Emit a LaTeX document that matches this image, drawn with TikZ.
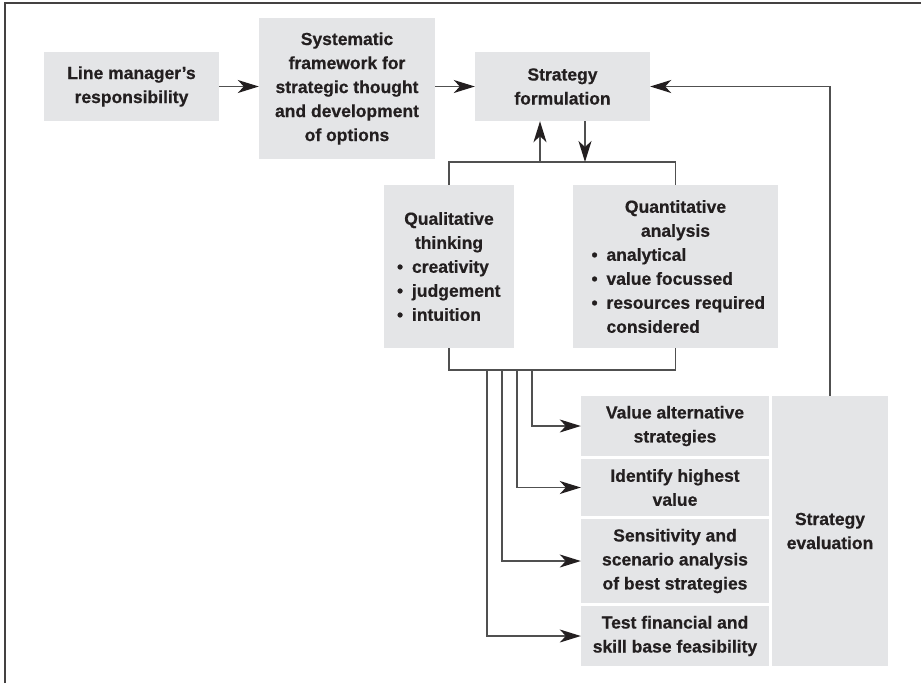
\documentclass[tikz,border=0pt]{standalone}
\usepackage{fontspec}
\setmainfont{Liberation Sans}[BoldFeatures={FakeBold=0.6}]
\usetikzlibrary{arrows.meta}
\definecolor{boxfill}{HTML}{E4E5E7}
\definecolor{ink}{HTML}{231F20}
\definecolor{wire}{HTML}{505050}
\newcommand\myitem[2]{\makebox[#1][l]{\makebox[15pt][l]{\textbullet}#2}}
\begin{document}
\begin{tikzpicture}[x=1pt,y=-1pt,
  box/.style={fill=boxfill, draw=none, inner sep=0pt, align=center,
    font=\fontsize{17.5}{24}\selectfont\bfseries, text=ink},
  wire/.style={draw=wire, line width=1.4pt},
  arr/.style={wire, -{Stealth[length=21pt,width=13pt,inset=6pt,color=ink]}},
  frame/.style={draw=ink!85, line width=2pt}]
\useasboundingbox (0,0) rectangle (921,683);
\draw[frame] (5,683) -- (5,3) -- (921,3);
% boxes
\node[box, minimum width=175pt, minimum height=69pt] (lm) at (131.5,86.5)
  {Line manager's\\responsibility};
\node[box, minimum width=176pt, minimum height=141pt] (sys) at (347,88.5)
  {Systematic\\framework for\\strategic thought\\and development\\of options};
\node[box, minimum width=175pt, minimum height=69pt] (sf) at (562.5,86.5)
  {Strategy\\formulation};
\node[box, minimum width=130pt, minimum height=163pt] (ql) at (449,266.5)
  {Qualitative\\thinking\\\myitem{104pt}{creativity}\\\myitem{104pt}{judgement}\\\myitem{104pt}{intuition}};
\node[box, minimum width=205pt, minimum height=163pt] (qn) at (675.5,266.5)
  {Quantitative\\analysis\\\myitem{168pt}{analytical}\\\myitem{168pt}{value focussed}\\\myitem{168pt}{resources required}\\\makebox[168pt][l]{\hspace{15pt}considered}};
\node[box, minimum width=188pt, minimum height=60pt] (r1) at (675,426)
  {Value alternative\\strategies};
\node[box, minimum width=188pt, minimum height=57pt] (r2) at (675,487.5)
  {Identify highest\\value};
\node[box, minimum width=188pt, minimum height=84pt] (r3) at (675,561)
  {Sensitivity and\\scenario analysis\\of best strategies};
\node[box, minimum width=188pt, minimum height=60pt] (r4) at (675,636)
  {Test financial and\\skill base feasibility};
\node[box, minimum width=116pt, minimum height=270pt] (ev) at (830,531)
  {Strategy\\evaluation};
% top chain
\draw[arr] (lm.east) -- (lm.east -| sys.west);
\draw[arr] (sys.east |- sf.west) -- (sf.west);
% top bracket
\coordinate (tl) at (449,162);
\coordinate (tr) at (675.5,162);
\coordinate (ua) at (540,162);
\coordinate (da) at (585,162);
\draw[wire] (ql.north) -- (tl) -- (tr) -- (qn.north);
\draw[arr] (ua) -- (ua |- sf.south);
\draw[arr] (da |- sf.south) -- (da);
% bottom bracket
\coordinate (bl) at (449,370);
\coordinate (br) at (675.5,370);
\draw[wire] (ql.south) -- (bl) -- (br) -- (qn.south);
\coordinate (c1) at (532,370);
\coordinate (c2) at (517,370);
\coordinate (c3) at (502,370);
\coordinate (c4) at (487,370);
\draw[arr] (c1) |- (r1.west);
\draw[arr] (c2) |- (r2.west);
\draw[arr] (c3) |- (r3.west);
\draw[arr] (c4) |- (r4.west);
% feedback
\draw[arr] (ev.north) -- (ev.north |- sf.east) -- (sf.east);
\end{tikzpicture}
\end{document}
